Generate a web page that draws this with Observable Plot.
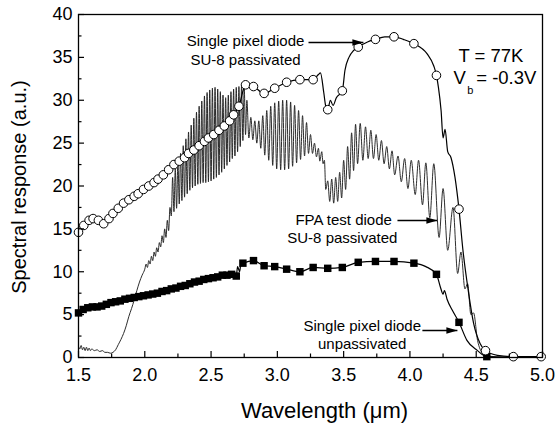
<!DOCTYPE html>
<html><head><meta charset="utf-8">
<script src="https://cdn.jsdelivr.net/npm/d3@7"></script>
<script src="https://cdn.jsdelivr.net/npm/@observablehq/plot@0.6"></script>
<style>html,body{margin:0;padding:0;background:#fff;}</style>
</head><body><div id="chart"></div>
<script>
// ---- Data (wavelength µm, spectral response a.u.) ----
// FPA test diode, SU-8 passivated (thin fringed line)
const fpa = [
[1.50,1.3],[1.51,1.0],[1.52,1.4],[1.53,0.9],[1.54,1.2],[1.55,0.8],[1.56,1.2],[1.57,0.8],[1.58,1.1],[1.59,0.8],[1.60,1.0],[1.62,0.8],[1.64,0.9],[1.66,0.7],[1.68,0.8],[1.70,0.6],[1.72,0.6],[1.74,0.5],[1.76,0.6],[1.78,0.9],[1.80,1.5],[1.82,2.1],[1.84,2.8],[1.86,3.7],[1.88,4.8],[1.90,5.7],[1.92,6.7],[1.94,7.8],[1.96,8.8],[1.98,9.6],[2.00,10.3],
[2.01,10.9],[2.02,10.5],[2.03,11.3],[2.04,10.9],[2.05,11.8],[2.06,11.3],[2.07,12.3],[2.08,11.8],[2.09,12.8],[2.10,12.3],[2.11,13.4],[2.12,12.9],[2.13,14.2],[2.14,13.4],[2.15,15.0],[2.16,14.0],[2.17,16.0],[2.18,14.8],[2.19,17.5],
[2.20,16.5],[2.21,21.0],[2.22,17.0],[2.23,22.0],[2.24,17.4],[2.25,23.0],[2.26,17.9],[2.27,23.8],[2.28,18.3],[2.29,24.7],[2.30,18.7],[2.31,25.5],[2.32,19.1],[2.33,26.3],[2.34,19.5],[2.35,27.1],[2.36,19.8],[2.37,27.9],[2.38,20.0],[2.39,28.6],[2.40,20.2],[2.41,29.3],[2.42,20.3],[2.43,29.9],[2.44,20.4],[2.45,30.5],[2.46,20.4],[2.47,30.9],[2.48,20.5],[2.49,31.2],[2.50,20.6],[2.51,31.4],[2.52,20.8],[2.53,31.5],[2.54,21.0],[2.55,31.3],[2.56,21.3],[2.57,31.0],[2.58,21.6],[2.59,30.6],[2.60,22.0],[2.61,30.3],[2.62,22.4],[2.63,30.6],[2.64,22.8],[2.65,31.0],[2.66,23.2],[2.67,31.3],[2.68,23.5],[2.69,31.5],[2.70,24.0],[2.71,31.6],[2.72,24.6],[2.73,31.7],[2.74,25.3],[2.75,31.5],[2.76,26.0],[2.77,30.0],
[2.785,25.6],[2.80,28.0],[2.815,25.4],[2.83,27.6],[2.845,25.0],[2.86,27.6],[2.875,24.4],[2.89,28.2],[2.905,23.6],[2.92,28.8],[2.935,23.0],[2.95,29.3],[2.965,22.4],[2.98,29.7],[2.995,22.0],[3.01,29.9],[3.025,21.9],[3.04,30.0],[3.055,21.9],[3.07,30.0],[3.085,22.0],[3.10,29.8],[3.115,22.3],[3.13,29.4],[3.145,22.7],[3.16,28.8],[3.175,23.1],[3.19,28.2],[3.205,23.5],[3.22,27.4],[3.235,23.8],[3.25,26.0],[3.265,23.8],[3.28,25.0],[3.295,23.4],[3.31,24.4],[3.32,22.9],[3.335,24.0],[3.345,22.6],[3.355,23.0],[3.365,19.6],
[3.38,20.6],[3.395,18.2],[3.41,20.8],[3.425,18.0],[3.44,21.0],[3.455,18.2],[3.47,21.6],[3.485,18.6],[3.50,23.0],[3.515,19.6],[3.53,24.6],[3.545,20.8],[3.56,26.2],[3.575,21.8],[3.59,27.2],[3.605,22.6],[3.625,27.3],[3.645,23.0],[3.665,26.9],[3.685,23.2],[3.705,26.5],[3.725,23.2],[3.745,26.0],[3.765,23.0],[3.785,25.3],[3.805,22.6],[3.825,24.6],[3.845,22.0],[3.865,24.1],[3.885,21.3],[3.91,23.5],[3.935,20.5],[3.96,23.2],[3.985,19.7],[4.01,23.0],[4.04,19.0],[4.065,23.0],[4.095,17.8],[4.12,22.7],[4.15,16.3],[4.18,22.6],[4.22,14.0],[4.25,19.7],[4.285,12.5],[4.325,17.5],[4.36,9.8],[4.385,12.3],[4.415,8.0],[4.435,8.6],[4.46,5.0],[4.48,5.2],[4.51,2.0],[4.55,0.5],[4.60,0.15],[4.70,0.05],[4.85,0.0],[5.00,0.0]
];
// Single pixel diode, SU-8 passivated: open-circle markers and extra line points
const circleMarkers = [
[1.50,14.6],[1.54,15.4],[1.58,16.0],[1.61,16.2],[1.65,16.0],[1.69,15.6],[1.73,16.2],[1.76,16.8],[1.80,17.4],[1.84,18.0],[1.88,18.4],[1.92,18.8],[1.95,19.1],[1.99,19.6],[2.03,20.0],[2.07,20.4],[2.10,20.8],[2.14,21.3],[2.18,21.9],[2.22,22.5],[2.26,22.9],[2.30,23.3],[2.33,23.8],[2.37,24.2],[2.41,24.7],[2.45,25.2],[2.48,25.6],[2.52,26.0],[2.56,26.5],[2.60,27.0],[2.64,27.6],[2.67,28.3],[2.71,29.3],[2.76,31.8],[2.82,31.6],[2.90,30.8],[2.98,31.4],[3.07,32.1],[3.17,32.4],[3.27,32.4],[3.38,28.9],[3.49,31.1],[3.61,36.2],[3.74,37.1],[3.88,37.4],[4.03,36.6],[4.20,32.9],[4.37,17.3],[4.57,0.8],[4.78,0.1],[4.99,0.1]
];
const circleExtra = [
[3.31,33.0],[3.325,33.2],[3.35,30.9],[3.365,29.3],[3.40,30.0],[3.42,29.4],[3.445,30.3],[3.51,33.5],[3.54,35.0],[3.575,35.8],[3.68,36.8],[3.81,37.4],[3.95,37.1],[4.13,35.4],[4.18,34.0],[4.215,31.5],[4.235,28.8],[4.25,25.6],[4.265,26.6],[4.285,24.0],[4.31,23.3],[4.34,21.0],[4.40,12.5],[4.44,7.8],[4.48,4.0],[4.53,1.6],[4.66,0.25]
];
// Single pixel diode, unpassivated: filled-square markers and extra line points
const squareMarkers = [
[1.50,5.2],[1.535,5.6],[1.57,5.8],[1.605,5.9],[1.64,5.9],[1.675,6.0],[1.71,6.2],[1.745,6.4],[1.78,6.5],[1.815,6.6],[1.85,6.8],[1.885,6.9],[1.92,7.0],[1.955,7.1],[1.99,7.2],[2.025,7.3],[2.06,7.4],[2.095,7.5],[2.13,7.7],[2.165,7.8],[2.20,8.0],[2.235,8.1],[2.27,8.3],[2.305,8.4],[2.34,8.6],[2.375,8.8],[2.41,8.9],[2.445,9.1],[2.48,9.2],[2.515,9.3],[2.55,9.4],[2.585,9.6],[2.62,9.6],[2.655,9.7],[2.69,9.5],[2.74,11.0],[2.82,11.3],[2.90,10.7],[2.98,10.6],[3.07,10.3],[3.17,10.0],[3.27,10.5],[3.38,10.4],[3.49,10.5],[3.61,11.1],[3.74,11.2],[3.88,11.2],[4.03,11.0],[4.20,9.7],[4.37,4.1],[4.58,0.1]
];
const squareExtra = [
[2.70,10.6],[2.715,10.0],[2.725,10.9],[4.12,10.6],[4.23,8.2],[4.25,7.4],[4.26,7.8],[4.28,6.8],[4.32,5.5],[4.43,2.0],[4.51,0.8],[4.75,0.02],[4.99,0.0]
];
// Axis ticks
const xTicks = [1.5,2.0,2.5,3.0,3.5,4.0,4.5,5.0];
const xMinor = [1.75,2.25,2.75,3.25,3.75,4.25,4.75];
const yTicks = [0,5,10,15,20,25,30,35,40];
const yMinor = [2.5,7.5,12.5,17.5,22.5,27.5,32.5,37.5];
// Annotations
const labelText = ["Single pixel diode","SU-8 passivated","FPA test diode","SU-8 passivated","Single pixel diode","unpassivated"];
const labelX = [2.76,2.76,3.50,3.49,3.64,3.64];
const labelY = [36.85,34.7,16.0,13.95,3.62,1.52];
const arrowX1 = [3.235,3.906,4.094];
const arrowX2 = [3.649,4.207,4.358];
const arrowY = [36.73,15.98,3.15];

// ---- Chart ----
const W = 557, H = 429, mL = 78, mR = 15, mT = 14, mB = 72;
const innerW = W - mL - mR, innerH = H - mT - mB;
const pts = a => a.map(([x, y]) => ({x, y}));
const merged = (a, b) => pts([...a, ...b].sort((p, q) => p[0] - q[0]));
const arrowHead = {draw(ctx) { ctx.moveTo(0, 0); ctx.lineTo(-11, -3.2); ctx.lineTo(-11, 3.2); ctx.closePath(); }};

const chart = Plot.plot({
  width: W, height: H,
  marginLeft: mL, marginRight: mR, marginTop: mT, marginBottom: mB,
  x: {domain: [1.5, 5.0]},
  y: {domain: [0, 40]},
  style: {fontFamily: "'Liberation Sans', Arial, sans-serif", background: "#fff", color: "#000"},
  marks: [
    Plot.line(pts(fpa), {x: "x", y: "y", stroke: "#222", strokeWidth: 0.95, curve: "monotone-x"}),
    Plot.line(merged(squareMarkers, squareExtra), {x: "x", y: "y", stroke: "#000", strokeWidth: 1.2, curve: "monotone-x"}),
    Plot.dot(pts(squareMarkers), {x: "x", y: "y", symbol: "square", r: 4.2, fill: "#000"}),
    Plot.line(merged(circleMarkers, circleExtra), {x: "x", y: "y", stroke: "#000", strokeWidth: 1.2, curve: "monotone-x"}),
    Plot.dot(pts(circleMarkers), {x: "x", y: "y", r: 4.3, fill: "#fff", stroke: "#000", strokeWidth: 1}),
    Plot.frame({stroke: "#000", strokeWidth: 1.3}),
    Plot.tickX(xTicks, {x: d => d, insetTop: innerH - 6, stroke: "#000", strokeWidth: 1.2}),
    Plot.tickX(xMinor, {x: d => d, insetTop: innerH - 3.5, stroke: "#000", strokeWidth: 1.2}),
    Plot.tickY(yTicks, {y: d => d, insetRight: innerW - 6, stroke: "#000", strokeWidth: 1.2}),
    Plot.tickY(yMinor, {y: d => d, insetRight: innerW - 3.5, stroke: "#000", strokeWidth: 1.2}),
    Plot.axisX({ticks: xTicks, tickFormat: d3.format(".1f"), tickSize: 0, tickPadding: 11, fontSize: 18, label: null}),
    Plot.axisY({ticks: yTicks, tickSize: 0, tickPadding: 6, fontSize: 18, label: null}),
    Plot.text(["Wavelength (\u03bcm)"], {frameAnchor: "bottom", textAnchor: "middle", dx: 14, dy: 53, fontSize: 22, lineAnchor: "middle"}),
    Plot.text(["Spectral response (a.u.)"], {frameAnchor: "left", textAnchor: "middle", dx: -59, dy: 1, rotate: -90, fontSize: 20, lineAnchor: "middle"}),
    Plot.text(labelText, {x: (d, i) => labelX[i], y: (d, i) => labelY[i], fontSize: 15, lineAnchor: "middle"}),
    Plot.link(arrowY, {x1: (d, i) => arrowX1[i], x2: (d, i) => arrowX2[i], y1: d => d, y2: d => d, stroke: "#000", strokeWidth: 1.4}),
    Plot.dot(arrowY, {x: (d, i) => arrowX2[i], y: d => d, symbol: arrowHead, fill: "#000", stroke: "none"}),
    Plot.text(["T = 77K"], {x: 4.366, y: 35.1, textAnchor: "start", lineAnchor: "middle", fontSize: 18.5}),
    Plot.text(["V"], {x: 4.328, y: 32.6, textAnchor: "start", lineAnchor: "middle", fontSize: 18.5}),
    Plot.text(["b"], {x: 4.432, y: 31.15, textAnchor: "start", lineAnchor: "middle", fontSize: 11}),
    Plot.text(["= -0.3V"], {x: 4.50, y: 32.6, textAnchor: "start", lineAnchor: "middle", fontSize: 18.5})
  ]
});
document.getElementById("chart").appendChild(chart);
</script>
</body></html>
